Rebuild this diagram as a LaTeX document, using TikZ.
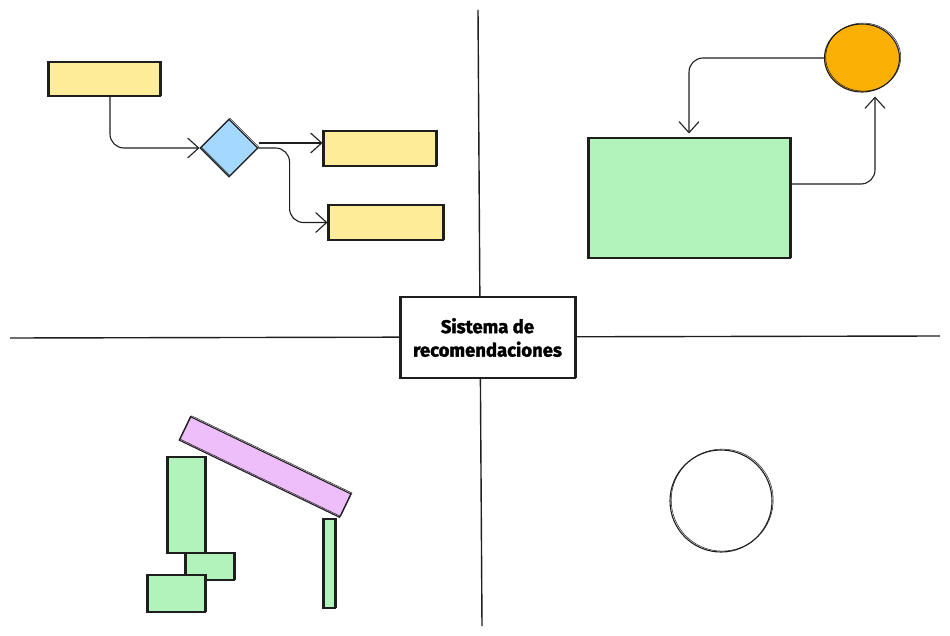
\documentclass[tikz,border=0pt]{standalone}
\usepackage{fontspec}
\newfontfamily\boardfont{Fira Sans}[BoldFeatures={FakeBold=2}]
\usetikzlibrary{shapes.geometric}
\usetikzlibrary{arrows.meta}
\definecolor{ink}{HTML}{1E1E1E}
\definecolor{yfill}{HTML}{FFEC99}
\definecolor{bfill}{HTML}{A5D8FF}
\definecolor{gfill}{HTML}{B2F2BB}
\definecolor{ofill}{HTML}{FAB005}
\definecolor{pfill}{HTML}{EEBEFA}
\tikzset{sketch/.style={postaction={draw=ink,line width=0.5pt,transform canvas={shift={(1.2pt,0.9pt)}}}}}
\tikzset{ybox/.style={draw=ink,fill=yfill,line width=1.1pt,inner sep=0pt,sketch}}
\tikzset{gbox/.style={draw=ink,fill=gfill,line width=1.1pt,inner sep=0pt,sketch}}
\tikzset{arr/.style={draw=ink,line width=1.1pt,rounded corners=14pt,-{Straight Barb[length=11pt,width=20pt]}}}
\tikzset{divider/.style={draw=ink,line width=1.4pt}}

\begin{document}
\begin{tikzpicture}[x=1pt,y=-1pt]
      \useasboundingbox (0,0) rectangle (950,636);

      % quadrants
      \draw[divider] (478,10) -- (482,626);
      \draw[divider] (10,338) -- (940,336);
      \node[draw=ink,fill=white,line width=1.1pt,sketch,minimum width=175pt,minimum height=81pt,align=center,
            font=\boardfont\bfseries\fontsize{18.5}{23.5}\selectfont] (title) at (487.5,337.5) {Sistema de\\recomendaciones};

      % top left: flow
      \node[ybox,minimum width=112pt,minimum height=34pt] (start) at (104,79) {};
      \node[draw=ink,fill=bfill,line width=1.1pt,diamond,aspect=1,minimum size=58pt,inner sep=0pt,sketch] (choice) at (229,148) {};
      \node[ybox,minimum width=113pt,minimum height=35pt] (optA) at (379.5,148.5) {};
      \node[ybox,minimum width=115pt,minimum height=35pt] (optB) at (385.5,222.5) {};
      \draw[arr] ([xshift=6pt]start.south) |- (choice.west);
      \draw[arr] ([yshift=5pt]choice.east) -- ([yshift=5pt]choice.east -| optA.west);
      \draw[arr] (choice.east) -- ++(31,0) |- (optB.west);

      % top right: loop
      \node[draw=ink,fill=ofill,line width=1.1pt,ellipse,minimum width=75pt,minimum height=68pt,inner sep=0pt,sketch] (sun) at (862,58) {};
      \node[gbox,minimum width=202pt,minimum height=120pt] (field) at (689,198) {};
      \draw[arr] (sun.west) -| ([yshift=4pt]field.north);
      \draw[arr] ([yshift=14pt]field.east) -| ([xshift=13pt,yshift=-4pt]sun.south);

      % bottom left: blocks
      \filldraw[draw=ink,fill=pfill,line width=1.1pt,sketch,rotate around={-25.7:(265,467)}] (176,454) rectangle (354,480);
      \filldraw[draw=ink,fill=gfill,line width=1.1pt,sketch] (167,457) rectangle (205,553);
      \filldraw[draw=ink,fill=gfill,line width=1.1pt,sketch] (185,553) rectangle (234,580);
      \filldraw[draw=ink,fill=gfill,line width=1.1pt,sketch] (147,575) rectangle (205,612);
      \filldraw[draw=ink,fill=gfill,line width=1.1pt,sketch] (323,519) rectangle (335,608);

      % bottom right
      \node[draw=ink,line width=1.1pt,circle,minimum size=102pt,inner sep=0pt,sketch] (ring) at (721,501) {};

\end{tikzpicture}
\end{document}
